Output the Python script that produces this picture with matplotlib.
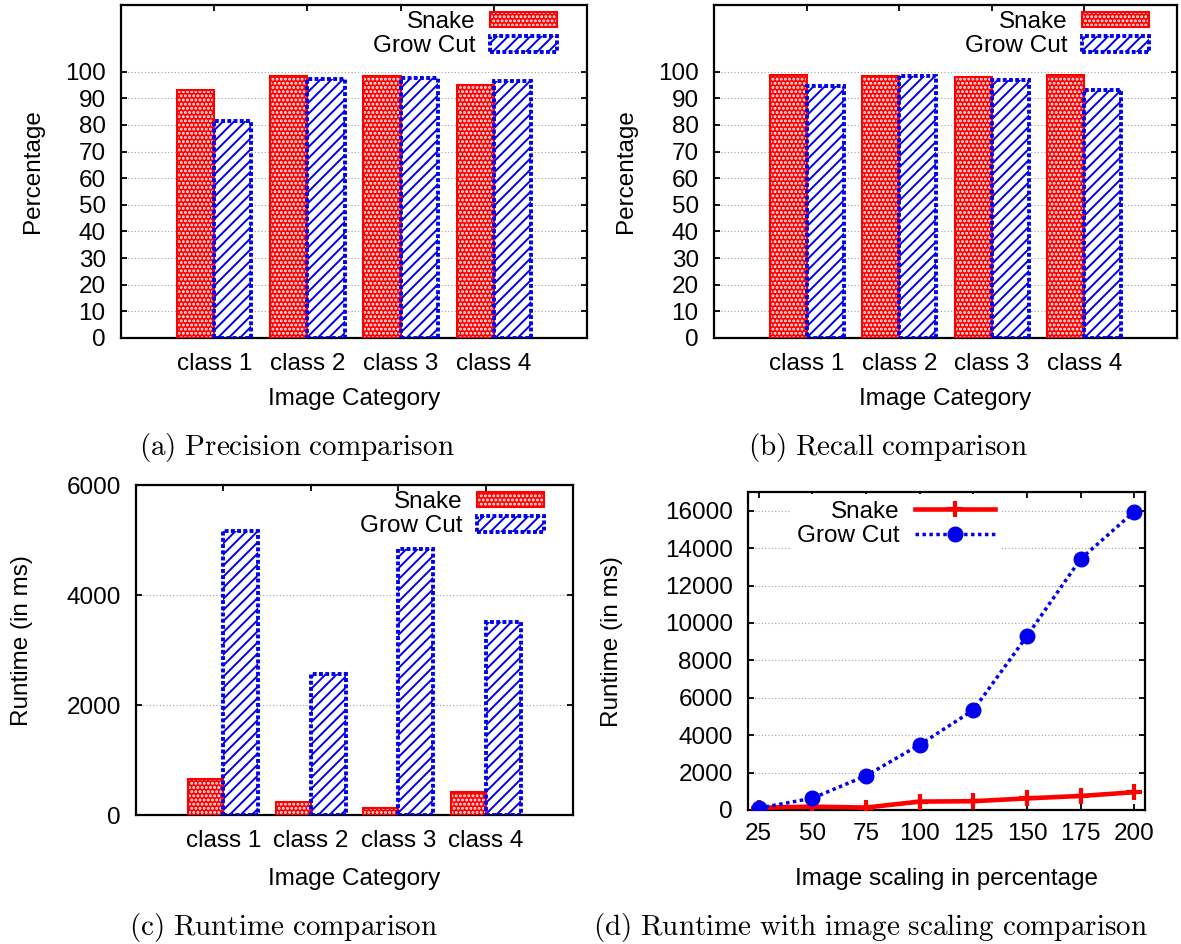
import numpy as np
import matplotlib
matplotlib.use("Agg")
import matplotlib.pyplot as plt
from matplotlib.patches import Patch
from matplotlib.legend_handler import HandlerTuple

plt.rcParams['font.family'] = ['Liberation Sans', 'DejaVu Sans']
plt.rcParams['mathtext.fontset'] = 'cm'
plt.rcParams['hatch.linewidth'] = 1.4

# ---- data ----
categories = ["class 1", "class 2", "class 3", "class 4"]
precision_snake = [93.2, 98.2, 98.2, 95.0]
precision_growcut = [81.6, 97.4, 97.5, 96.5]
recall_snake = [98.6, 98.4, 98.1, 98.8]
recall_growcut = [94.6, 98.5, 96.9, 93.2]
runtime_snake = [655, 245, 135, 425]
runtime_growcut = [5165, 2565, 4835, 3505]
scaling = [25, 50, 75, 100, 125, 150, 175, 200]
scaling_snake = [120, 180, 130, 450, 470, 620, 750, 950]
scaling_growcut = [100, 630, 1830, 3490, 5340, 9300, 13420, 15950]

W, H = 1181, 944
fig = plt.figure(figsize=(W / 100, H / 100), dpi=100)

FS = 17.5
RED = '#ff0000'
BLUE = '#0000ee'
SNAKE_HATCH = '....'
GROW_HATCH = '///'
BLUE_LS = (0, (1, 0.6))


def px_axes(left, top, right, bottom):
    return fig.add_axes([left / W, (H - bottom) / H, (right - left) / W, (bottom - top) / H])


def style_axes(ax, xpad=11):
    for s in ax.spines.values():
        s.set_linewidth(1.6)
    ax.tick_params(direction='in', top=True, right=True, length=4, width=1.3, labelsize=FS)
    ax.tick_params(axis='x', pad=xpad)
    ax.tick_params(axis='y', pad=11)
    ax.yaxis.grid(True, linestyle=(0, (1, 2)), color='#a0a0a0', linewidth=0.8)
    ax.set_axisbelow(True)


def snake_handle():
    return (Patch(facecolor=RED, edgecolor='white', hatch=SNAKE_HATCH, linewidth=0),
            Patch(fill=False, edgecolor=RED, linewidth=1.5))


def grow_handle():
    return (Patch(facecolor='white', edgecolor=BLUE, hatch=GROW_HATCH, linewidth=0),
            Patch(fill=False, edgecolor=BLUE, linewidth=2.8, linestyle=BLUE_LS))


def bar_panel(ax, snake, grow, ylim, yticks, legend_anchor):
    x = np.arange(1, len(categories) + 1)
    w = 0.4
    ax.bar(x - w / 2, snake, w, color=RED, edgecolor='white', hatch=SNAKE_HATCH, linewidth=0, zorder=2)
    ax.bar(x - w / 2, snake, w, fill=False, edgecolor=RED, linewidth=1.5, zorder=3)
    ax.bar(x + w / 2, grow, w, color='white', edgecolor=BLUE, hatch=GROW_HATCH, linewidth=0, zorder=2)
    ax.bar(x + w / 2, grow, w, fill=False, edgecolor=BLUE, linewidth=2.8,
           linestyle=BLUE_LS, zorder=3)
    ax.set_xlim(0, 5)
    ax.set_ylim(*ylim)
    ax.set_xticks(x)
    ax.set_xticklabels(categories)
    ax.set_yticks(yticks)
    style_axes(ax)
    ax.legend([snake_handle(), grow_handle()], ["Snake", "Grow Cut"],
              handler_map={tuple: HandlerTuple(ndivide=1)},
              loc='upper right', bbox_to_anchor=legend_anchor, frameon=False,
              markerfirst=False, fontsize=FS, handlelength=2.75, handleheight=0.6,
              handletextpad=0.6, labelspacing=0.1, borderpad=0, borderaxespad=0)
    ax.set_xlabel("Image Category", fontsize=FS)


# (a) precision
ax_a = px_axes(121, 5, 587, 338)
bar_panel(ax_a, precision_snake, precision_growcut, (0, 125), np.arange(0, 101, 10), (0.936, 0.982))
ax_a.set_ylabel("Percentage", fontsize=FS)
ax_a.yaxis.set_label_coords(-0.165, 0.5)
ax_a.xaxis.set_label_coords(0.5, -0.15)

# (b) recall
ax_b = px_axes(714, 5, 1177, 338)
bar_panel(ax_b, recall_snake, recall_growcut, (0, 125), np.arange(0, 101, 10), (0.9395, 0.982))
ax_b.set_ylabel("Percentage", fontsize=FS)
ax_b.yaxis.set_label_coords(-0.166, 0.5)
ax_b.xaxis.set_label_coords(0.5, -0.15)

# (c) runtime
ax_c = px_axes(136, 485, 573, 815)
bar_panel(ax_c, runtime_snake, runtime_growcut, (0, 6000), [0, 2000, 4000, 6000], (0.934, 0.982))
ax_c.set_ylabel("Runtime (in ms)", fontsize=FS)
ax_c.yaxis.set_label_coords(-0.236, 0.53)
ax_c.xaxis.set_label_coords(0.5, -0.16)

# (d) runtime vs scaling
ax_d = px_axes(748, 492, 1145, 810)
ax_d.plot(scaling, scaling_snake, color=RED, linewidth=3.3, marker='+', markersize=12,
          markeredgewidth=3, zorder=3, label="Snake")
ax_d.plot(scaling, scaling_growcut, color=BLUE, linewidth=2.5, linestyle=(0, (1, 1)),
          marker='o', markersize=10.5, zorder=4, label="Grow Cut")
ax_d.set_xlim(20, 205)
ax_d.set_ylim(0, 17000)
ax_d.set_xticks(scaling)
ax_d.set_yticks(np.arange(0, 16001, 2000))
style_axes(ax_d, xpad=9)
leg = ax_d.legend(loc='upper right', bbox_to_anchor=(0.64, 0.995), frameon=True,
                  markerfirst=False, fontsize=FS, handlelength=3.3, handletextpad=0.6,
                  labelspacing=0.1, borderpad=0.3, borderaxespad=0, fancybox=False)
leg.get_frame().set_edgecolor('none')
leg.get_frame().set_facecolor('white')
leg.get_frame().set_alpha(1)
ax_d.set_xlabel("Image scaling in percentage", fontsize=FS)
ax_d.set_ylabel("Runtime (in ms)", fontsize=FS)
ax_d.yaxis.set_label_coords(-0.315, 0.531)
ax_d.xaxis.set_label_coords(0.5, -0.182)

# captions
CAP = 21
fig.text(297 / W, 1 - 447 / H, r"$\mathrm{(a)\ Precision\ comparison}$", ha='center', va='center', fontsize=CAP)
fig.text(888 / W, 1 - 447 / H, r"$\mathrm{(b)\ Recall\ comparison}$", ha='center', va='center', fontsize=CAP)
fig.text(283 / W, 1 - 927 / H, r"$\mathrm{(c)\ Runtime\ comparison}$", ha='center', va='center', fontsize=CAP)
fig.text(870 / W, 1 - 927 / H, r"$\mathrm{(d)\ Runtime\ with\ image\ scaling\ comparison}$",
         ha='center', va='center', fontsize=CAP)

fig.savefig("out.png", dpi=100)
